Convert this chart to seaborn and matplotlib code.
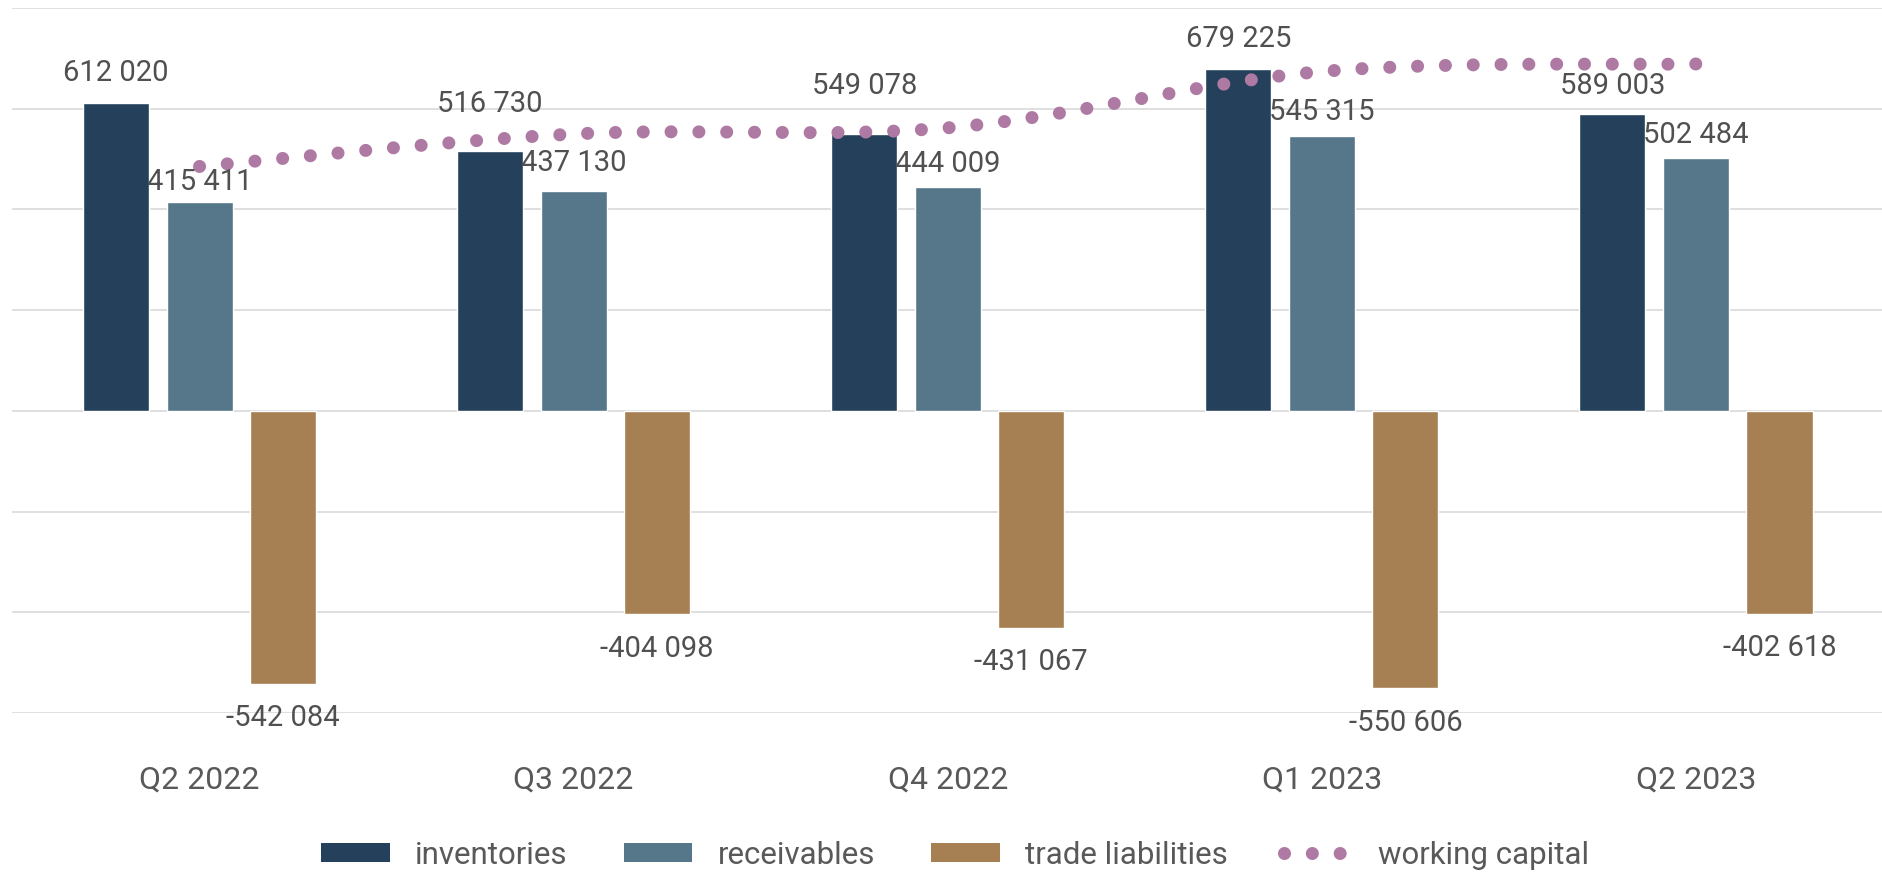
import numpy as np
import pandas as pd
import matplotlib
matplotlib.use("Agg")
import matplotlib.pyplot as plt
from matplotlib.patches import Patch
from matplotlib.lines import Line2D
import seaborn as sns

# Quarterly working capital components
quarters = ["Q2 2022", "Q3 2022", "Q4 2022", "Q1 2023", "Q2 2023"]
inventories = [612020, 516730, 549078, 679225, 589003]
receivables = [415411, 437130, 444009, 545315, 502484]
trade_liabilities = [-542084, -404098, -431067, -550606, -402618]
working_capital = [485347, 549762, 562020, 673934, 688869]

series_names = ["inventories", "receivables", "trade liabilities"]
palette = {"inventories": "#25405A", "receivables": "#557789", "trade liabilities": "#A68052"}
wc_color = "#AE7AA4"

# label offsets from bar end (pixels)
label_offsets = {
    "inventories": [30, 47, 48, 30, 28],
    "receivables": [20, 28, 23, 24, 23],
    "trade liabilities": [-34, -35, -34, -35, -34],
}

sns.set_theme(style="white")
plt.rcParams["font.family"] = ["Roboto", "DejaVu Sans"]

df = pd.DataFrame({
    "quarter": quarters * 3,
    "series": [n for n in series_names for _ in quarters],
    "value": inventories + receivables + trade_liabilities,
})

W, H = 1883, 872
fig = plt.figure(figsize=(W / 100, H / 100), dpi=100)
left, right, top, bottom = 12.5, 1883, 8, 713
ax = fig.add_axes([left / W, 1 - bottom / H, (right - left) / W, (bottom - top) / H])

ax.set_ylim(-600000, 800000)
ax.set_yticks(np.arange(-600000, 800001, 200000))
ax.yaxis.grid(True, color="#D9D9D9", lw=1.2)
ax.set_axisbelow(True)

sns.barplot(data=df, x="quarter", y="value", hue="series", order=quarters,
            hue_order=series_names, palette=palette, width=0.67, gap=0.21,
            saturation=1, errorbar=None, legend=False, ax=ax, zorder=2)

ax.set_xlim(-0.5, 4.5)

# value labels
for cont, name in zip(ax.containers, series_names):
    for bar, off in zip(cont.patches, label_offsets[name]):
        v = bar.get_height()
        xc = bar.get_x() + bar.get_width() / 2
        txt = f"{int(round(v)):,}".replace(",", " ")
        ax.annotate(txt, (xc, v), xytext=(0, off * 0.72), textcoords="offset points",
                    ha="center", va="center", fontsize=21, color="#505050", zorder=5)


# smoothed working capital curve (cubic Bezier through the quarter points)
def smooth_curve(xs, ys, n=60):
    p = np.column_stack([xs, ys]).astype(float)
    ext = np.vstack([p[0], p, p[-1]])
    out = []
    for i in range(len(p) - 1):
        p0, p1, p2, p3 = ext[i], ext[i + 1], ext[i + 2], ext[i + 3]
        c1 = p1 + (p2 - p0) / 6
        c2 = p2 - (p3 - p1) / 6
        t = np.linspace(0, 1, n, endpoint=(i == len(p) - 2))[:, None]
        seg = ((1 - t) ** 3) * p1 + 3 * ((1 - t) ** 2) * t * c1 + 3 * (1 - t) * t ** 2 * c2 + t ** 3 * p2
        out.append(seg)
    out = np.vstack(out)
    return out[:, 0], out[:, 1]


xs = np.arange(len(quarters))
cx, cy = smooth_curve(xs, working_capital)
dot_style = (0, (0.001, 2.13))
ax.plot(cx, cy, color=wc_color, lw=9.4, linestyle=dot_style,
        dash_capstyle="round", zorder=4)

for s in ax.spines.values():
    s.set_visible(False)
ax.set_xlabel("")
ax.set_ylabel("")
ax.set_yticklabels([])
ax.tick_params(axis="y", length=0)
ax.tick_params(axis="x", length=0, pad=38, labelsize=23, labelcolor="#595959")

handles = [Patch(facecolor=palette[n], edgecolor="none") for n in series_names]
handles.append(Line2D([], [], color=wc_color, lw=9.4, linestyle=dot_style,
                      dash_capstyle="round"))
labels = series_names + ["working capital"]
fig.legend(handles, labels, loc="center", bbox_to_anchor=(955 / W, 1 - 855 / H),
           ncol=4, frameon=False, fontsize=22.5, handlelength=2.2, handleheight=0.55,
           handletextpad=0.8, columnspacing=1.8, labelcolor="#595959")

fig.savefig("out.png", dpi=100)
